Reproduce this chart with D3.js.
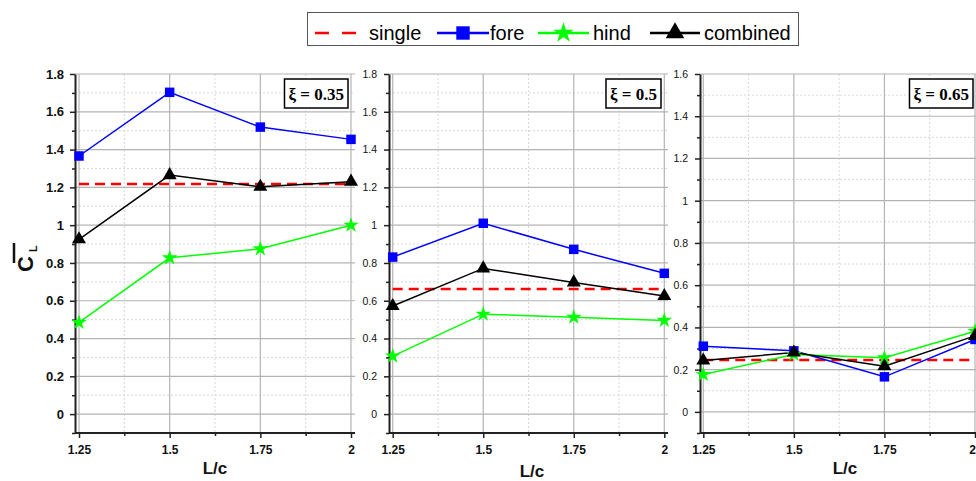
<!DOCTYPE html>
<html>
<head>
<meta charset="utf-8">
<script src="https://cdn.jsdelivr.net/npm/d3@7"></script>
<style>
  body { margin: 0; background: #fff; }
  svg { display: block; font-family: "Liberation Sans", Arial, sans-serif; }
</style>
</head>
<body>
<svg id="chart" width="976" height="481"></svg>
<script>
// Spacing ratio L/c
const spacing = [1.25, 1.5, 1.75, 2];

// Panel labels (gap ratio)
const xiLabels = ["ξ = 0.35", "ξ = 0.5", "ξ = 0.65"];

// Mean lift coefficient of a single foil, per panel
const singleCL = [1.218, 0.662, 0.246];

// Mean lift coefficient, fore foil
const foreCL = [
  [1.366, 1.703, 1.519, 1.454],
  [0.831, 1.010, 0.872, 0.745],
  [0.311, 0.289, 0.166, 0.343]
];
// Mean lift coefficient, hind foil
const hindCL = [
  [0.485, 0.827, 0.875, 1.000],
  [0.307, 0.529, 0.513, 0.496],
  [0.177, 0.272, 0.256, 0.382]
];
// Mean lift coefficient, combined
const combinedCL = [
  [0.925, 1.265, 1.203, 1.230],
  [0.572, 0.771, 0.697, 0.625],
  [0.243, 0.281, 0.216, 0.360]
];

// Y-axis ranges and tick labels per panel
const yMax = [1.8, 1.8, 1.6];
const yTickLabels = [
  ["0", "0.2", "0.4", "0.6", "0.8", "1", "1.2", "1.4", "1.6", "1.8"],
  ["0", "0.2", "0.4", "0.6", "0.8", "1", "1.2", "1.4", "1.6", "1.8"],
  ["0", "0.2", "0.4", "0.6", "0.8", "1", "1.2", "1.4", "1.6"]
];
const xTickLabels = ["1.25", "1.5", "1.75", "2"];

// Panel geometry
const panels = [
  { axisX: 75,  x0: 79,    x1: 351,   right: 355, top: 74, bottom: 433, tickFont: 13,   tickBold: true,  labelEnd: 64,  xLabelX: 215, xLabelY: 474 },
  { axisX: 389, x0: 392.7, x1: 664.3, right: 668, top: 74, bottom: 433, tickFont: 10.5, tickBold: false, labelEnd: 377, xLabelX: 532, xLabelY: 477 },
  { axisX: 700, x0: 703.3, x1: 975,   right: 980, top: 74, bottom: 433, tickFont: 10.5, tickBold: false, labelEnd: 688, xLabelX: 845, xLabelY: 474 }
];

const colors = { single: "#ff0000", fore: "#0000ff", hind: "#00ff00", combined: "#000000" };

const W = 976;
const svg = d3.select("#chart");

panels.forEach((p, i) => {
  const g = svg.append("g");
  const x = d3.scaleLinear().domain([1.25, 2]).range([p.x0, p.x1]);
  const y = d3.scaleLinear().domain([-0.1, yMax[i]]).range([p.bottom, p.top]);

  const majorY = d3.range(0, yMax[i] + 1e-9, 0.2).map(v => +v.toFixed(2));
  const minorY = d3.range(-0.1, yMax[i], 0.2).map(v => +v.toFixed(2));
  const minorX = [1.375, 1.625, 1.875];

  // minor grid (dotted)
  g.selectAll(".mgy").data(minorY.filter(v => v > -0.1)).join("line")
    .attr("x1", p.axisX).attr("x2", p.right)
    .attr("y1", d => y(d)).attr("y2", d => y(d))
    .attr("stroke", "#d8d8d8").attr("stroke-width", 1).attr("stroke-dasharray", "2,2");
  g.selectAll(".mgx").data(minorX).join("line")
    .attr("x1", d => x(d)).attr("x2", d => x(d))
    .attr("y1", p.top).attr("y2", p.bottom)
    .attr("stroke", "#d8d8d8").attr("stroke-width", 1).attr("stroke-dasharray", "2,2");

  // major grid
  g.selectAll(".gy").data(majorY).join("line")
    .attr("x1", p.axisX).attr("x2", p.right)
    .attr("y1", d => y(d)).attr("y2", d => y(d))
    .attr("stroke", "#b4b4b4").attr("stroke-width", 1.2);
  g.selectAll(".gx").data(spacing).join("line")
    .attr("x1", d => x(d)).attr("x2", d => x(d))
    .attr("y1", p.top).attr("y2", p.bottom)
    .attr("stroke", "#b4b4b4").attr("stroke-width", 1.2);

  // y axis
  const yAxis = d3.axisLeft(y).tickValues(majorY).tickSize(5).tickSizeOuter(0)
    .tickFormat((d, k) => yTickLabels[i][k]);
  const ya = g.append("g").attr("transform", `translate(${p.axisX},0)`).call(yAxis);
  ya.select(".domain").attr("stroke", "#222").attr("stroke-width", 2);
  ya.selectAll(".tick line").attr("stroke", "#222").attr("stroke-width", 1.5);
  ya.selectAll(".tick text")
    .attr("x", p.labelEnd - p.axisX)
    .style("font-size", p.tickFont + "px")
    .style("font-weight", p.tickBold ? "bold" : "normal")
    .style("font-family", '"Liberation Sans", Arial, sans-serif')
    .attr("fill", "#111");
  const yMinor = d3.axisLeft(y).tickValues(minorY).tickSize(3).tickFormat("");
  const ym = g.append("g").attr("transform", `translate(${p.axisX},0)`).call(yMinor);
  ym.select(".domain").remove();
  ym.selectAll(".tick line").attr("stroke", "#222").attr("stroke-width", 1.5);

  // x axis
  const xa = g.append("g").attr("transform", `translate(0,${p.bottom})`)
    .call(d3.axisBottom(x).tickValues(spacing).tickSize(5).tickSizeOuter(0)
      .tickFormat((d, k) => xTickLabels[k]));
  xa.select(".domain").remove();
  xa.append("line").attr("x1", p.axisX).attr("x2", p.right).attr("y1", 0).attr("y2", 0)
    .attr("stroke", "#222").attr("stroke-width", 2);
  xa.selectAll(".tick line").attr("stroke", "#222").attr("stroke-width", 1.5);
  xa.selectAll(".tick text")
    .attr("y", 12)
    .style("font-size", "12px").style("font-weight", "bold")
    .style("font-family", '"Liberation Sans", Arial, sans-serif')
    .attr("fill", "#111");
  // keep a label that would run past the page edge inside it
  xa.selectAll(".tick text").each(function (d) {
    const bx = this.getBBox();
    if (x(d) + bx.x + bx.width > W) {
      d3.select(this).attr("text-anchor", "end").attr("x", W - x(d) - 0.5);
    }
  });
  const xm = g.append("g").attr("transform", `translate(0,${p.bottom})`)
    .call(d3.axisBottom(x).tickValues(minorX).tickSize(3).tickFormat(""));
  xm.select(".domain").remove();
  xm.selectAll(".tick line").attr("stroke", "#222").attr("stroke-width", 1.5);

  // x axis title
  g.append("text").attr("x", p.xLabelX).attr("y", p.xLabelY)
    .attr("text-anchor", "middle")
    .style("font-size", "17px").style("font-weight", "bold").attr("fill", "#111")
    .text("L/c");

  // single foil reference line
  g.append("line")
    .attr("x1", x(1.25)).attr("x2", x(2))
    .attr("y1", y(singleCL[i])).attr("y2", y(singleCL[i]))
    .attr("stroke", colors.single).attr("stroke-width", 2.5).attr("stroke-dasharray", "10,6");

  const line = d3.line().x((d, k) => x(spacing[k])).y(d => y(d));
  const series = [
    { vals: foreCL[i], color: colors.fore, sym: d3.symbolSquare, size: 90 },
    { vals: hindCL[i], color: colors.hind, sym: d3.symbolStar, size: 75 },
    { vals: combinedCL[i], color: colors.combined, sym: d3.symbolTriangle, size: 85 }
  ];
  series.forEach(s => {
    g.append("path").datum(s.vals).attr("d", line)
      .attr("fill", "none").attr("stroke", s.color).attr("stroke-width", 1.5);
  });
  series.forEach(s => {
    g.selectAll(null).data(s.vals).join("path")
      .attr("transform", (d, k) => `translate(${x(spacing[k])},${y(d)})`)
      .attr("d", d3.symbol().type(s.sym).size(s.size))
      .attr("fill", s.color);
  });

  // panel label in a framed box
  const box = g.append("rect");
  const lbl = g.append("text")
    .attr("x", p.right - 11).attr("y", 100)
    .attr("text-anchor", "end")
    .style("font-family", '"Liberation Serif", "Times New Roman", serif')
    .style("font-size", "17px").style("font-weight", "bold").attr("fill", "#000")
    .text(xiLabels[i]);
  const bb = lbl.node().getBBox();
  box.attr("x", bb.x - 4).attr("y", 79).attr("width", bb.width + 8).attr("height", 29)
    .attr("fill", "#fff").attr("stroke", "#000").attr("stroke-width", 1.5);
});

// y-axis title: mean lift coefficient (C with overbar, subscript L)
const yt = svg.append("g").attr("transform", "translate(33,258) rotate(-90)");
yt.append("text").attr("x", -14).attr("y", 0)
  .style("font-size", "22px").style("font-weight", "bold").attr("fill", "#111")
  .text("C");
yt.append("text").attr("x", 6).attr("y", 4)
  .style("font-size", "11px").style("font-weight", "bold").attr("fill", "#111")
  .text("L");
yt.append("line")
  .attr("x1", -5).attr("x2", 15)
  .attr("y1", -19).attr("y2", -19)
  .attr("stroke", "#111").attr("stroke-width", 2.5);

// legend
const legend = svg.append("g");
legend.append("rect").attr("x", 307.5).attr("y", 12.5).attr("width", 491).attr("height", 33)
  .attr("fill", "#fff").attr("stroke", "#555").attr("stroke-width", 1);
const legendItems = [
  { name: "single", color: colors.single, dash: "14,13", sym: null, x0: 315, x1: 356, tx: 369 },
  { name: "fore", color: colors.fore, dash: null, sym: d3.symbolSquare, size: 180, x0: 437, x1: 489, tx: 490 },
  { name: "hind", color: colors.hind, dash: null, sym: d3.symbolStar, size: 130, x0: 538, x1: 589, tx: 593 },
  { name: "combined", color: colors.combined, dash: null, sym: d3.symbolTriangle, size: 150, x0: 650, x1: 700, tx: 704 }
];
legendItems.forEach(it => {
  legend.append("line").attr("x1", it.x0).attr("x2", it.x1).attr("y1", 33).attr("y2", 33)
    .attr("stroke", it.color).attr("stroke-width", 2.5)
    .attr("stroke-dasharray", it.dash);
  if (it.sym) {
    legend.append("path").attr("transform", `translate(${(it.x0 + it.x1) / 2},33)`)
      .attr("d", d3.symbol().type(it.sym).size(it.size)).attr("fill", it.color);
  }
  legend.append("text").attr("x", it.tx).attr("y", 40)
    .style("font-size", "20px").attr("fill", "#000").text(it.name);
});
</script>
</body>
</html>
